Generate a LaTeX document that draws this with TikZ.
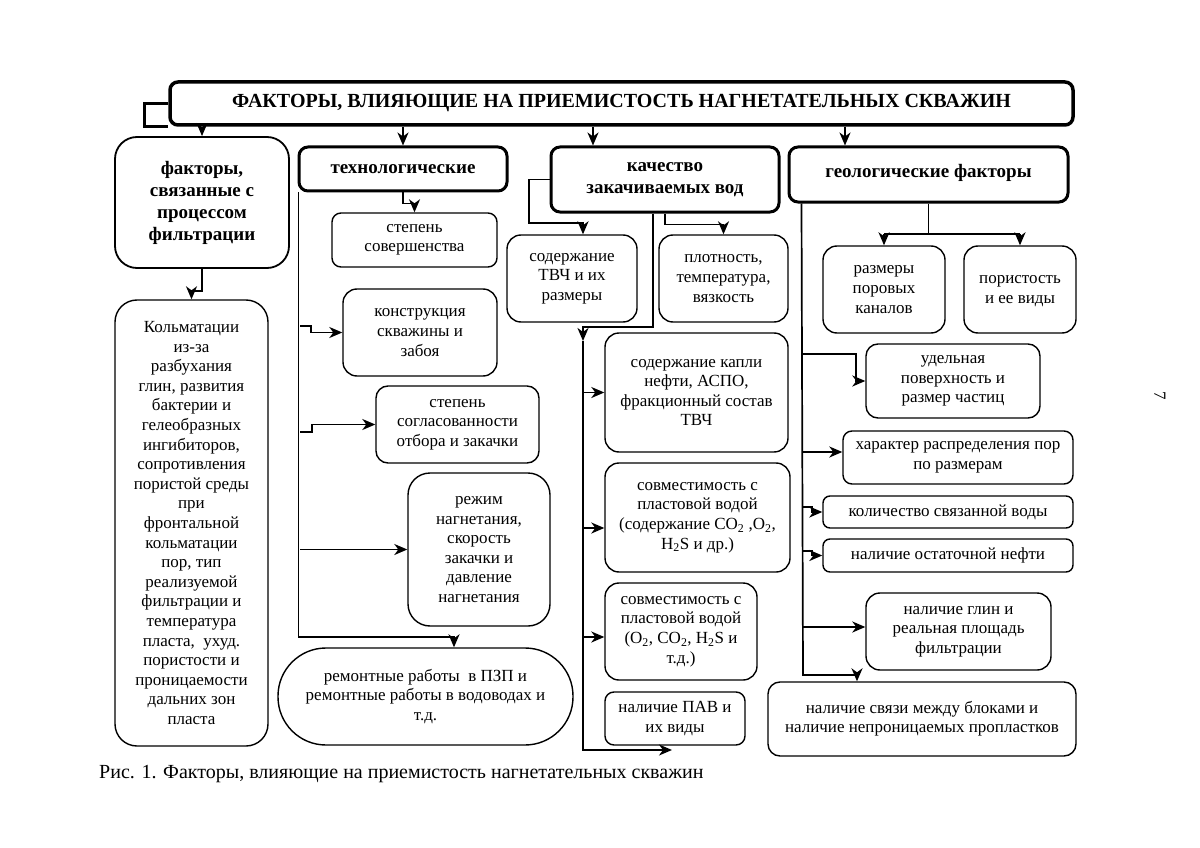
\documentclass[tikz,border=0pt]{standalone}
\usepackage{fontspec}
\setmainfont{Liberation Serif}
\usetikzlibrary{arrows.meta}
\newcommand\bx[7]{\node[#6, minimum width={(#4-#2)*1pt}, minimum height={(#5-#3)*1pt}] (#1) at ({(#2+#4)/2},{(#3+#5)/2}) {#7};}
\newcommand\upt[2]{\raisebox{#1}{\begin{tabular}{@{}c@{}}#2\end{tabular}}}
\begin{document}
\begin{tikzpicture}[x=1pt,y=-1pt,
  box/.style={draw, rounded corners=9pt, line width=1.4pt, align=center, inner sep=1pt, font=\fontsize{17}{19.6}\selectfont},
  hbox/.style={box, line width=3pt, font=\fontsize{19}{22}\selectfont\bfseries},
  hdrbox/.style={box, line width=3.5pt, rounded corners=8pt, font=\fontsize{20}{22}\selectfont\bfseries},
  conn/.style={line width=1.7pt},
  arr/.style={conn, -{Stealth[length=13pt,width=11pt,inset=4pt]}},
]
\fill[white] (0,0) rectangle (1200,848);
\useasboundingbox (0,0) rectangle (1200,848);

% header
\bx{hdr}{170}{82}{1073}{125}{hdrbox}{ФАКТОРЫ, ВЛИЯЮЩИЕ НА ПРИЕМИСТОСТЬ НАГНЕТАТЕЛЬНЫХ СКВАЖИН}
\draw[line width=3pt] (hdr.west) -- ++(-24,0) |- (hdr.south west);

% left column
\bx{filt}{115}{137}{289}{268}{hbox, line width=1.8pt, rounded corners=22pt}{факторы,\\связанные с\\процессом\\фильтрации}
\bx{kolm}{115}{300}{268}{746}{box, rounded corners=22pt}{Кольматации\\из-за\\разбухания\\глин, развития\\бактерии и\\гелеобразных\\ингибиторов,\\сопротивления\\пористой среды\\при\\фронтальной\\кольматации\\пор, тип\\реализуемой\\фильтрации и\\температура\\пласта,\ \ ухуд.\\пористости и\\проницаемости\\дальних зон\\пласта}

% technological
\bx{tech}{299}{147}{507}{191}{hbox}{технологические}
\bx{sov}{332}{213}{497}{267}{box}{степень\\совершенства}
\bx{kon}{343}{289}{497}{376}{box, rounded corners=14pt}{конструкция\\скважины и\\забоя}
\bx{sogl}{376}{386}{539}{463}{box, rounded corners=12pt}{степень\\согласованности\\отбора и закачки}
\bx{rezh}{408}{473}{550}{626}{box, rounded corners=22pt}{режим\\нагнетания,\\скорость\\закачки и\\давление\\нагнетания}
\bx{rem}{278}{648}{573}{745}{box, rounded corners=48pt}{ремонтные работы\ \ в ПЗП и\\ремонтные работы в водоводах и\\т.д.}

% quality
\bx{qual}{551}{147}{779}{212}{hbox}{качество\\закачиваемых вод}
\bx{tvch}{507}{235}{637}{322}{box, rounded corners=14pt}{содержание\\ТВЧ и их\\размеры}
\bx{plot}{659}{235}{788}{322}{box, rounded corners=14pt}{плотность,\\температура,\\вязкость}
\bx{kapl}{605}{333}{788}{452}{box, rounded corners=14pt}{\upt{6pt}{содержание капли\\нефти, АСПО,\\фракционный состав\\ТВЧ}}
\bx{sovm1}{605}{463}{790}{572}{box, rounded corners=14pt}{совместимость с\\пластовой водой\\(содержание CO\textsubscript{2} ,O\textsubscript{2},\\H\textsubscript{2}S и др.)}
\bx{sovm2}{605}{583}{757}{680}{box, rounded corners=14pt}{совместимость с\\пластовой водой\\(O\textsubscript{2}, CO\textsubscript{2}, H\textsubscript{2}S и\\т.д.)}
\bx{pav}{605}{692}{745}{745}{box}{наличие ПАВ и\\их виды}

% geological
\bx{geo}{789}{147}{1068}{202}{hbox}{\raisebox{7pt}{геологические факторы}}
\bx{razm}{823}{246}{945}{333}{box, rounded corners=14pt}{\upt{5pt}{размеры\\поровых\\каналов}}
\bx{por}{964}{246}{1076}{333}{box, rounded corners=14pt}{\upt{14pt}{пористость\\и ее виды}}
\bx{udel}{866}{344}{1040}{418}{box, rounded corners=12pt}{удельная\\поверхность и\\размер частиц}
\bx{har}{843}{431}{1073}{484}{box}{характер распределения пор\\по размерам}
\bx{kol}{823}{496}{1073}{528}{box, rounded corners=7pt}{количество связанной воды}
\bx{ost}{823}{539}{1073}{572}{box, rounded corners=7pt}{наличие остаточной нефти}
\bx{glin}{866}{593}{1051}{670}{box, rounded corners=14pt}{наличие глин и\\реальная площадь\\фильтрации}
\bx{svyaz}{768}{682}{1076}{756}{box, rounded corners=12pt}{\upt{12pt}{наличие связи между блоками и\\наличие непроницаемых пропластков}}

% header arrows
\coordinate (qa) at (593,0);
\coordinate (ga) at (845,0);
\draw[arr] (hdr.south -| filt.north) -- (filt.north);
\draw[arr] (hdr.south -| tech.north) -- (tech.north);
\draw[arr] (hdr.south -| qa) -- (qual.north -| qa);
\draw[arr] (hdr.south -| ga) -- (geo.north -| ga);

% left
\draw[arr] (filt.south) -- ++(0,22) -| (kolm.north);

% technological connectors
\coordinate (remA) at (454,637);
\coordinate (t1) at (300,326);
\coordinate (t2) at (300,432);
\draw[arr] ([xshift=1pt]tech.south west) |- (remA) -- (remA |- rem.north);
\draw[arr] (tech.south) -- ++(0,11) -| (sov.north);
\draw[arr] (t1) -- ++(11,0) |- (kon.west);
\draw[arr] (t2) -- ++(12,0) |- (sogl.west);
\draw[arr] (rezh.west -| t1) -- (rezh.west);

% quality connectors
\coordinate (q1) at (529,223);
\coordinate (q2) at (583,223);
\coordinate (q3) at (653,327);
\coordinate (q4) at (583,327);
\coordinate (q5) at (583,341);
\coordinate (q6) at (583,750);
\coordinate (q7) at (672,750);
\coordinate (q8) at (583,528);
\coordinate (q9) at (583,637);
\draw[arr] (qual.west) -| (q1) -- (q2) -- (q2 |- tvch.north);
\draw[arr] (qual.south) -- ++(0,11) -| (plot.north);
\draw[arr] (qual.south -| q3) -- (q3) -- (q4) -- (q5);
\draw[arr] (q5) -- (q6) -- (q7);
\draw[arr] (kapl.west -| q4) -- (kapl.west);
\draw[arr] (q8) -- (q8 -| sovm1.west);
\draw[arr] (q9) -- (q9 -| sovm2.west);

% geological connectors
\coordinate (g0) at (929,234);
\coordinate (gB) at (803,675);
\coordinate (gC) at (857,675);
\coordinate (h1) at (803,354);
\coordinate (h2) at (803,452);
\coordinate (h3) at (803,507);
\coordinate (h4) at (803,551);
\coordinate (h5) at (803,627);
\draw[conn] (geo.south) -- (geo.south |- g0);
\draw[conn] (razm.north |- g0) -- (por.north |- g0);
\draw[arr] (razm.north |- g0) -- (razm.north);
\draw[arr] (por.north |- g0) -- (por.north);
\draw[arr] ([xshift=14pt]geo.south west) -- (gB) -- (gC) -- (gC |- svyaz.north);
\draw[arr] (h1) -- ++(53,0) |- (udel.west);
\draw[arr] (h2) -- (h2 -| har.west);
\draw[arr] (h3) -- ++(9,0) |- (kol.west);
\draw[arr] (h4) -- ++(9,0) |- (ost.west);
\draw[arr] (h5) -- (h5 -| glin.west);

% caption and page number
\node[anchor=west, font=\fontsize{20}{22}\selectfont, inner sep=0pt] (cap) at (99,774) {Рис. 1. Факторы, влияющие на приемистость нагнетательных скважин};
\node[rotate=-90, font=\fontsize{17}{17}\selectfont, inner sep=0pt] (pg) at (1160,396) {7};
\end{tikzpicture}
\end{document}
